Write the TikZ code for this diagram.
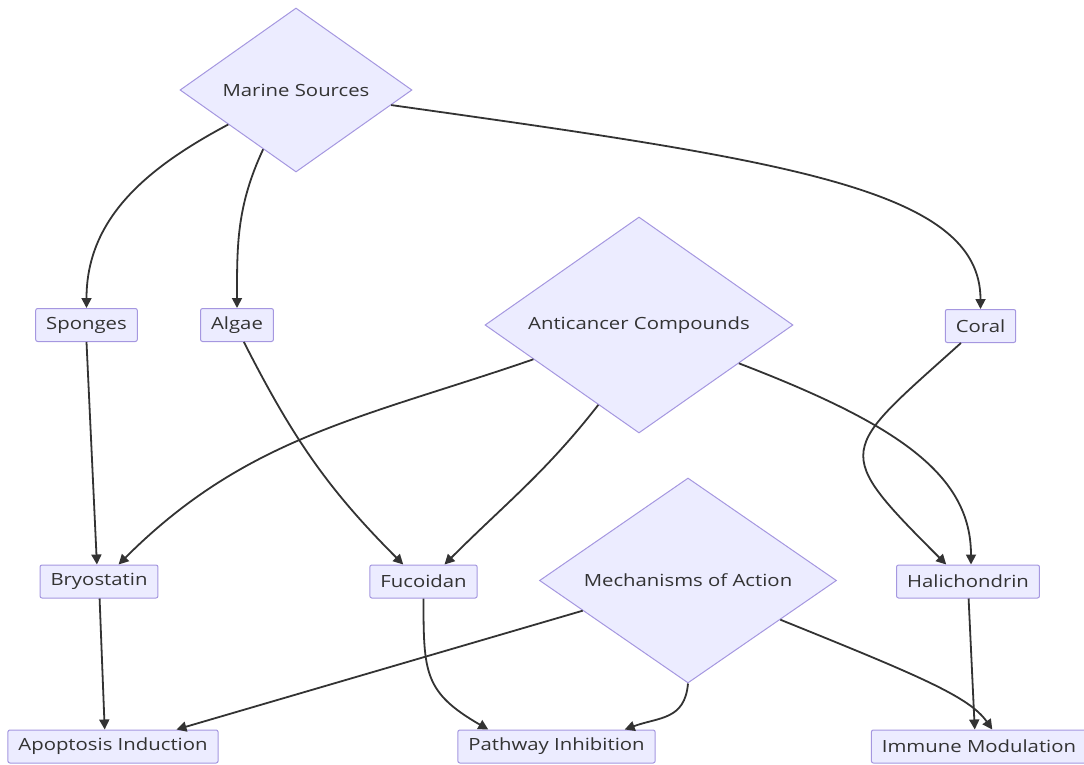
\documentclass[tikz,border=0pt]{standalone}
\usepackage{fontspec}
\setmainfont{Open Sans}[FakeStretch=1.21]
\usetikzlibrary{shapes.geometric,arrows.meta}
\definecolor{nodefill}{HTML}{ECECFF}
\definecolor{nodeline}{HTML}{A597E0}
\definecolor{inkgray}{HTML}{333333}
\begin{document}
\begin{tikzpicture}[x=1pt,y=1pt,
  box/.style={draw=nodeline,fill=nodefill,line width=1pt,rounded corners=2pt,minimum height=33pt,inner xsep=10.5pt,text=inkgray,font=\fontsize{16.8}{19}\selectfont},
  choice/.style={diamond,aspect=1.4,draw=nodeline,fill=nodefill,line width=1pt,inner sep=0pt,text=inkgray,font=\fontsize{16.8}{19}\selectfont},
  link/.style={draw=inkgray,line width=1.8pt,-{Triangle[length=10pt,width=10pt]}}]
\useasboundingbox (0,0) rectangle (1084,-765);
\node[choice,minimum width=232pt,minimum height=164pt] (ms) at (296,-90) {Marine Sources};
\node[choice,minimum width=308pt,minimum height=216pt] (ac) at (639,-325) {Anticancer Compounds};
\node[choice,minimum width=297pt,minimum height=205pt] (moa) at (688,-580.5) {Mechanisms of Action};
\node[box] (sp) at (86.5,-325) {Sponges};
\node[box] (al) at (237,-325) {Algae};
\node[box] (co) at (980.5,-326) {Coral};
\node[box] (bry) at (99,-581.5) {Bryostatin};
\node[box] (fuc) at (423.5,-581.5) {Fucoidan};
\node[box] (hal) at (968,-581.5) {Halichondrin};
\node[box] (api) at (113,-746.5) {Apoptosis Induction};
\node[box] (pin) at (556.5,-746.5) {Pathway Inhibition};
\node[box] (imm) at (979,-746.5) {Immune Modulation};
\draw[link] (ms.207) to[out=208,in=90] (sp.north);
\draw[link] (ms.241) to[out=245,in=90] (al.north);
\draw[link] (ms.-9) to[out=-8,in=90,out distance=400pt,in distance=120pt] (co.north);
\draw[link] (sp.south) -- (bry.97);
\draw[link] (al.-68) to[out=-63,in=135] (fuc.140);
\draw[link] (ac.198) to[out=199,in=45] (bry.41);
\draw[link] (ac.243) to[out=232,in=45] (fuc.39);
\draw[link] (ac.-21) to[out=-21,in=90,out distance=170pt,in distance=90pt] (hal.80);
\draw[link] (co.221) to[out=222,in=135,looseness=1.89] (hal.142);
\draw[link] (bry.-88) -- (api.116);
\draw[link] (fuc.south) to[out=-90,in=150,looseness=1.3] (pin.166);
\draw[link] (moa.196) -- (api.15);
\draw[link] (moa.south) to[out=-95,in=20,looseness=1.2] (pin.14);
\draw[link] (hal.-88) -- (imm.104);
\draw[link] (moa.-23) to[out=-22,in=125,out distance=150pt,in distance=40pt] (imm.52);
\end{tikzpicture}
\end{document}
